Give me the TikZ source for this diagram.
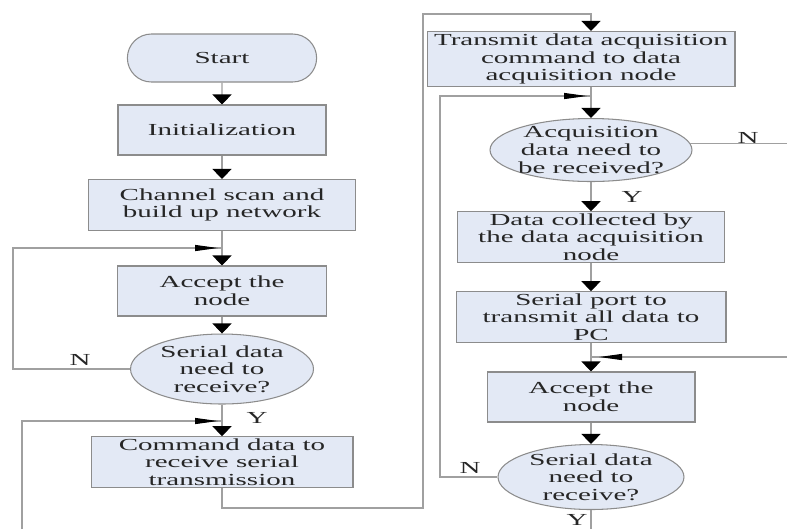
\documentclass[tikz,border=0pt]{standalone}
\usepackage{fontspec}
\setmainfont{Liberation Serif}[FakeStretch=1.72]
\usepackage{tikz,xcolor}
\usetikzlibrary{arrows.meta,shapes.geometric,shapes.misc,decorations.markings,calc}
\definecolor{boxfill}{HTML}{E3E9F5}
\definecolor{boxline}{HTML}{8C8C8C}
\definecolor{flowline}{HTML}{A0A0A0}
\definecolor{txt}{HTML}{262626}
\tikzset{
  % process boxes and decisions
  box/.style={draw=boxline, fill=boxfill, line width=0.6pt, text=txt,
    align=center, inner xsep=1pt, inner ysep=1pt, minimum height=1cm},
  decision/.style={ellipse, draw=boxline, fill=boxfill, line width=0.6pt, text=txt,
    align=center, inner xsep=-4pt, inner ysep=-4pt},
  startstop/.style={rounded rectangle, draw=boxline, fill=boxfill, line width=0.6pt,
    text=txt, minimum width=4.02cm, minimum height=0.96cm},
  lbl/.style={text=txt, inner sep=0pt},
  % connectors
  flow/.style={draw=flowline, line width=0.6pt},
  down tip/.style={-{Triangle[width=0.38cm,length=0.2cm,black]}},
  % style to add an arrow near the end of a feedback path
  mid arrow/.style={postaction={decorate,decoration={
        markings,
        mark=at position #1 with {\arrow{Triangle[length=0.46cm,width=0.12cm,black]}}
      }}},
}
\begin{document}
\begin{tikzpicture}[x=0.02cm, y=-0.02cm, font=\fontsize{9.6}{10}\selectfont]
\useasboundingbox (0,0) rectangle (787,529);
% left column
\node[startstop] (start) at (222,58) {Start};
\node[box, minimum width=4.16cm] (init) at (222,130) {Initialization};
\node[box, minimum width=5.34cm, minimum height=1.02cm] (scan) at (222,205) {Channel scan and\\build up network};
\node[box, minimum width=4.18cm] (acc1) at (222,291) {Accept the\\node};
\node[decision, minimum width=3.66cm, minimum height=1.4cm] (ser1) at (222,369) {Serial data\\need to\\receive?};
\node[box, minimum width=5.24cm] (cmd) at (222,462) {Command data to\\receive serial\\transmission};
% right column
\node[box, minimum width=6.16cm, minimum height=1.1cm] (trans) at (581,59) {Transmit data acquisition\\command to data\\acquisition node};
\node[decision, minimum width=4.04cm, minimum height=1.26cm] (acq) at (591,150) {Acquisition\\data need to\\be received?};
\node[box, minimum width=5.34cm] (coll) at (591,237) {Data collected by\\the data acquisition\\node};
\node[box, minimum width=5.4cm] (port) at (591,317) {Serial port to\\transmit all data to\\PC};
\node[box, minimum width=4.16cm] (acc2) at (591,397) {Accept the\\node};
\node[decision, minimum width=3.72cm, minimum height=1.3cm] (ser2) at (591,477) {Serial data\\need to\\receive?};
% labels
\node[lbl] (n1) at (80,360) {N};
\node[lbl] (y1) at (257,418) {Y};
\node[lbl] (n2) at (748,138) {N};
\node[lbl] (y2) at (632,197) {Y};
\node[lbl] (n3) at (470,468) {N};
\node[lbl] (y3) at (577,520) {Y};
% junctions and free ends
\coordinate (j1) at (222,248);
\coordinate (j2) at (222,421);
\coordinate (j3) at (591,96);
\coordinate (j4) at (591,357);
\coordinate (c1) at (13,248);
\coordinate (c2) at (423,508);
\coordinate (c3) at (423,14);
\coordinate (c4) at (440,96);
\coordinate (lb) at (22,529);
\coordinate (rb) at (591,529);
\coordinate (re1) at (787,147);
\coordinate (re2) at (787,357);
% main flow
\draw[flow,down tip] (start) -- (init);
\draw[flow,down tip] (init) -- (scan);
\draw[flow,down tip] (scan) -- (acc1);
\draw[flow,down tip] (acc1) -- (ser1);
\draw[flow,down tip] (ser1) -- (cmd);
\draw[flow,down tip] (cmd.south) |- (c2) -- (c3) -| (trans.north -| acq.north);
\draw[flow,down tip] (trans.south -| acq.north) -- (acq.north);
\draw[flow,down tip] (acq) -- (coll);
\draw[flow,down tip] (coll) -- (port);
\draw[flow,down tip] (port) -- (acc2);
\draw[flow,down tip] (acc2) -- (ser2);
\draw[flow] (ser2.south) -- (rb);
\draw[flow] (acq.4) -- (acq.4 -| re1);
% feedback
\draw[flow, mid arrow=-0.08cm] (ser1.west) -| (c1) -- (j1);
\draw[flow, mid arrow=-0.08cm] (lb) |- (j2);
\draw[flow, mid arrow=-0.08cm] (ser2.west) -| (c4) -- (j3);
\draw[flow, mid arrow=-0.16cm] (re2) -- (j4);
\end{tikzpicture}
\end{document}
